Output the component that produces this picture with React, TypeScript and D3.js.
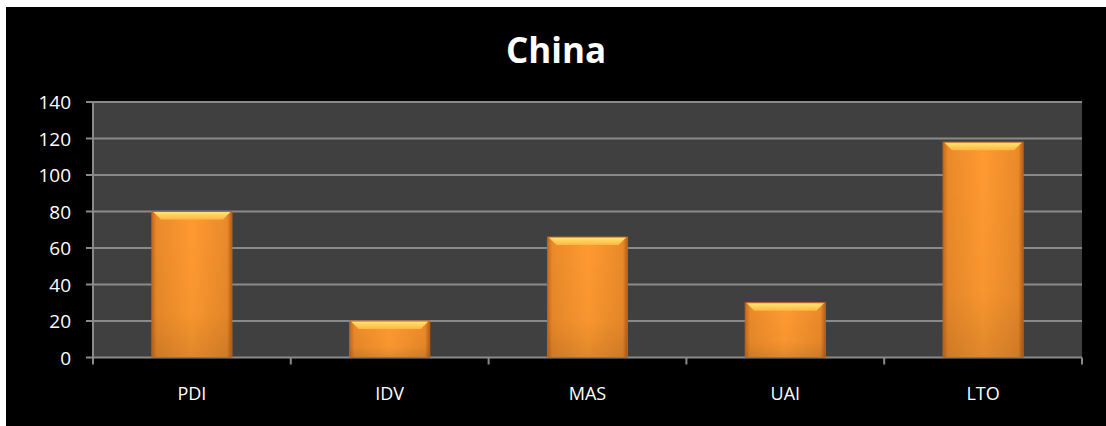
import React from "react";
import * as d3 from "d3";

const categories = ["PDI", "IDV", "MAS", "UAI", "LTO"];
const values = [80, 20, 66, 30, 118];
const yTicks = [0, 20, 40, 60, 80, 100, 120, 140];
const title = "China";

const W = 1106;
const H = 426;
const plot = { left: 93, right: 1082, top: 102, bottom: 357.5 };

export default function App() {
  const x = d3
    .scaleBand<string>()
    .domain(categories)
    .range([plot.left, plot.right])
    .paddingInner(0.595)
    .paddingOuter(0.2975);
  const y = d3.scaleLinear().domain([0, 140]).range([plot.bottom, plot.top]);
  const step = x.step();
  const font = "'Open Sans', 'DejaVu Sans', sans-serif";
  const bw = x.bandwidth();
  const bevel = 8;

  return (
    <svg
      width={W}
      height={H}
      style={{ position: "fixed", left: 0, top: 0, display: "block" }}
    >
      <defs>
        <linearGradient id="body" x1="0" x2="1" y1="0" y2="0">
          <stop offset="0" stopColor="#c8681a" />
          <stop offset="0.06" stopColor="#ea8a2a" />
          <stop offset="0.5" stopColor="#ff9a30" />
          <stop offset="0.94" stopColor="#ea8a2a" />
          <stop offset="1" stopColor="#b85e16" />
        </linearGradient>
        <linearGradient id="shade" x1="0" x2="0" y1="0" y2="1">
          <stop offset="0" stopColor="#000" stopOpacity="0" />
          <stop offset="0.7" stopColor="#000" stopOpacity="0.03" />
          <stop offset="1" stopColor="#000" stopOpacity="0.12" />
        </linearGradient>
        <linearGradient id="topb" x1="0" x2="0" y1="0" y2="1">
          <stop offset="0" stopColor="#ffe878" />
          <stop offset="1" stopColor="#ffb640" />
        </linearGradient>
      </defs>
      <rect x={0} y={0} width={W} height={H} fill="#ffffff" />
      <rect x={6} y={7} width={W - 6} height={H - 7} fill="#000000" />
      <text
        x={556}
        y={63}
        textAnchor="middle"
        fill="#ffffff"
        fontFamily={font}
        fontWeight="bold"
        fontSize={35}
      >
        {title}
      </text>
      <rect
        x={plot.left}
        y={plot.top}
        width={plot.right - plot.left}
        height={plot.bottom - plot.top}
        fill="#404040"
      />
      {yTicks.map((t) => (
        <g key={t}>
          <line
            x1={plot.left - 7}
            x2={plot.right}
            y1={y(t)}
            y2={y(t)}
            stroke="#8a8a8a"
            strokeWidth={2}
          />
          <text
            x={71}
            y={y(t) + 7}
            textAnchor="end"
            fill="#ffffff"
            fontFamily={font}
            fontSize={19}
          >
            {t}
          </text>
        </g>
      ))}
      <line
        x1={plot.left}
        x2={plot.left}
        y1={plot.top}
        y2={plot.bottom + 7}
        stroke="#8a8a8a"
        strokeWidth={2}
      />
      {categories.map((c, i) => (
        <line
          key={"t" + c}
          x1={plot.left + step * (i + 1)}
          x2={plot.left + step * (i + 1)}
          y1={plot.bottom}
          y2={plot.bottom + 7}
          stroke="#8a8a8a"
          strokeWidth={2}
        />
      ))}
      {categories.map((c, i) => {
        const bx = x(c)!;
        const by = y(values[i]);
        const bh = plot.bottom - by;
        return (
          <g key={c}>
            <rect x={bx} y={by} width={bw} height={bh} fill="url(#body)" />
            <rect x={bx} y={by} width={bw} height={bh} fill="url(#shade)" />
            <path
              d={`M${bx + 1},${by} L${bx + bw - 1},${by} L${bx + bw - 1 - bevel},${by + bevel} L${bx + 1 + bevel},${by + bevel} Z`}
              fill="url(#topb)"
            />
            <rect
              x={bx}
              y={by}
              width={bw}
              height={bh}
              fill="none"
              stroke="#c06418"
              strokeWidth={1}
            />
            <text
              x={bx + bw / 2}
              y={400}
              textAnchor="middle"
              fill="#ffffff"
              fontFamily={font}
              fontSize={18}
            >
              {c}
            </text>
          </g>
        );
      })}
    </svg>
  );
}
